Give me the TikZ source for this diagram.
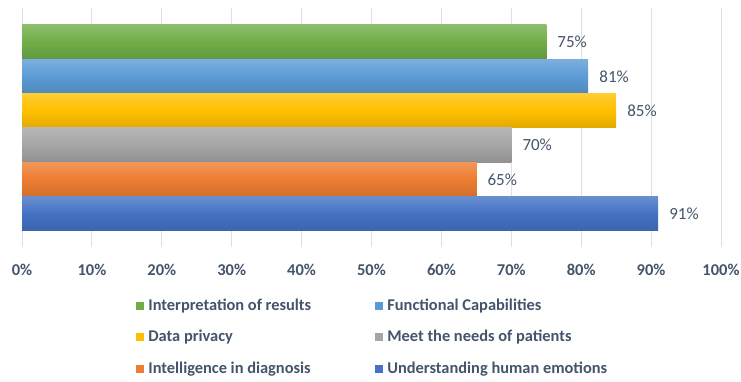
\documentclass[tikz,border=0pt]{standalone}
\usepackage{fontspec}
\setmainfont{Carlito}
\usetikzlibrary{positioning}
\definecolor{labeltext}{RGB}{68,84,106}
\definecolor{gridline}{RGB}{217,224,234}
\definecolor{cgreen}{RGB}{112,173,71}
\definecolor{clblue}{RGB}{91,155,213}
\definecolor{cyellow}{RGB}{255,192,0}
\definecolor{cgray}{RGB}{165,165,165}
\definecolor{corange}{RGB}{237,125,49}
\definecolor{cdblue}{RGB}{68,114,196}
\tikzset{
  barfill/.style={top color=#1!80!white, bottom color=#1!88!black, middle color=#1, draw=none},
  ticklabel/.style={font=\bfseries\fontsize{16.5}{16.5}\selectfont, text=labeltext},
  vallabel/.style={anchor=west, font=\fontsize{17}{17}\selectfont, text=labeltext, inner sep=0pt},
  legendkey/.style={fill=#1, minimum size=8pt, inner sep=0pt},
  legendtext/.style={anchor=west, font=\bfseries\fontsize{16.4}{16.4}\selectfont, text=labeltext, inner sep=0pt}
}
\def\pct{6.99}

\begin{document}
\begin{tikzpicture}[x=1pt, y=-1pt]
			%%%%% START %%%%%
			\useasboundingbox (0, 0) rectangle (741, 382);
			
			% grid and tick labels
			\foreach \v in {0,10,...,100}{
				\draw[gridline, line width=1pt] ({22+\v*\pct}, 8) -- ({22+\v*\pct}, 247);
				\node[ticklabel] (tick\v) at ({22+\v*\pct}, 270) {\v\%};
			}
			
			% bars
			\shade[barfill=cgreen]  (22, 25.0)  rectangle ({22+75*\pct}, 59.3);
			\shade[barfill=clblue]  (22, 59.3)  rectangle ({22+81*\pct}, 93.6);
			\shade[barfill=cyellow] (22, 93.6)  rectangle ({22+85*\pct}, 127.9);
			\shade[barfill=cgray]   (22, 127.9) rectangle ({22+70*\pct}, 162.1);
			\shade[barfill=corange] (22, 162.1) rectangle ({22+65*\pct}, 196.4);
			\shade[barfill=cdblue]  (22, 196.4) rectangle ({22+91*\pct}, 230.7);
			
			% value labels
			\node[vallabel] (vresults)  at ({33+75*\pct}, 42.2)  {75\%};
			\node[vallabel] (vfunction) at ({33+81*\pct}, 76.5)  {81\%};
			\node[vallabel] (vprivacy)  at ({33+85*\pct}, 110.7) {85\%};
			\node[vallabel] (vneeds)    at ({33+70*\pct}, 145.0) {70\%};
			\node[vallabel] (vdiagnose) at ({33+65*\pct}, 179.3) {65\%};
			\node[vallabel] (vemotion)  at ({33+91*\pct}, 213.6) {91\%};
			
			% legend
			\node[legendkey=cgreen]  (kresults)  at (140, 305.7) {};
			\node[legendtext, right=4pt of kresults] (lresults) {Interpretation of results};
			\node[legendkey=clblue]  (kfunction) at (379, 305.7) {};
			\node[legendtext, right=4pt of kfunction] (lfunction) {Functional Capabilities};
			\node[legendkey=cyellow] (kprivacy)  at (140, 337.3) {};
			\node[legendtext, right=4pt of kprivacy] (lprivacy) {Data privacy};
			\node[legendkey=cgray]   (kneeds)    at (379, 337.3) {};
			\node[legendtext, right=4pt of kneeds] (lneeds) {Meet the needs of patients};
			\node[legendkey=corange] (kdiagnose) at (140, 369.3) {};
			\node[legendtext, right=4pt of kdiagnose] (ldiagnose) {Intelligence in diagnosis};
			\node[legendkey=cdblue]  (kemotion)  at (379, 369.3) {};
			\node[legendtext, right=4pt of kemotion] (lemotion) {Understanding human emotions};
			%%%%% END %%%%%
\end{tikzpicture}
\end{document}
